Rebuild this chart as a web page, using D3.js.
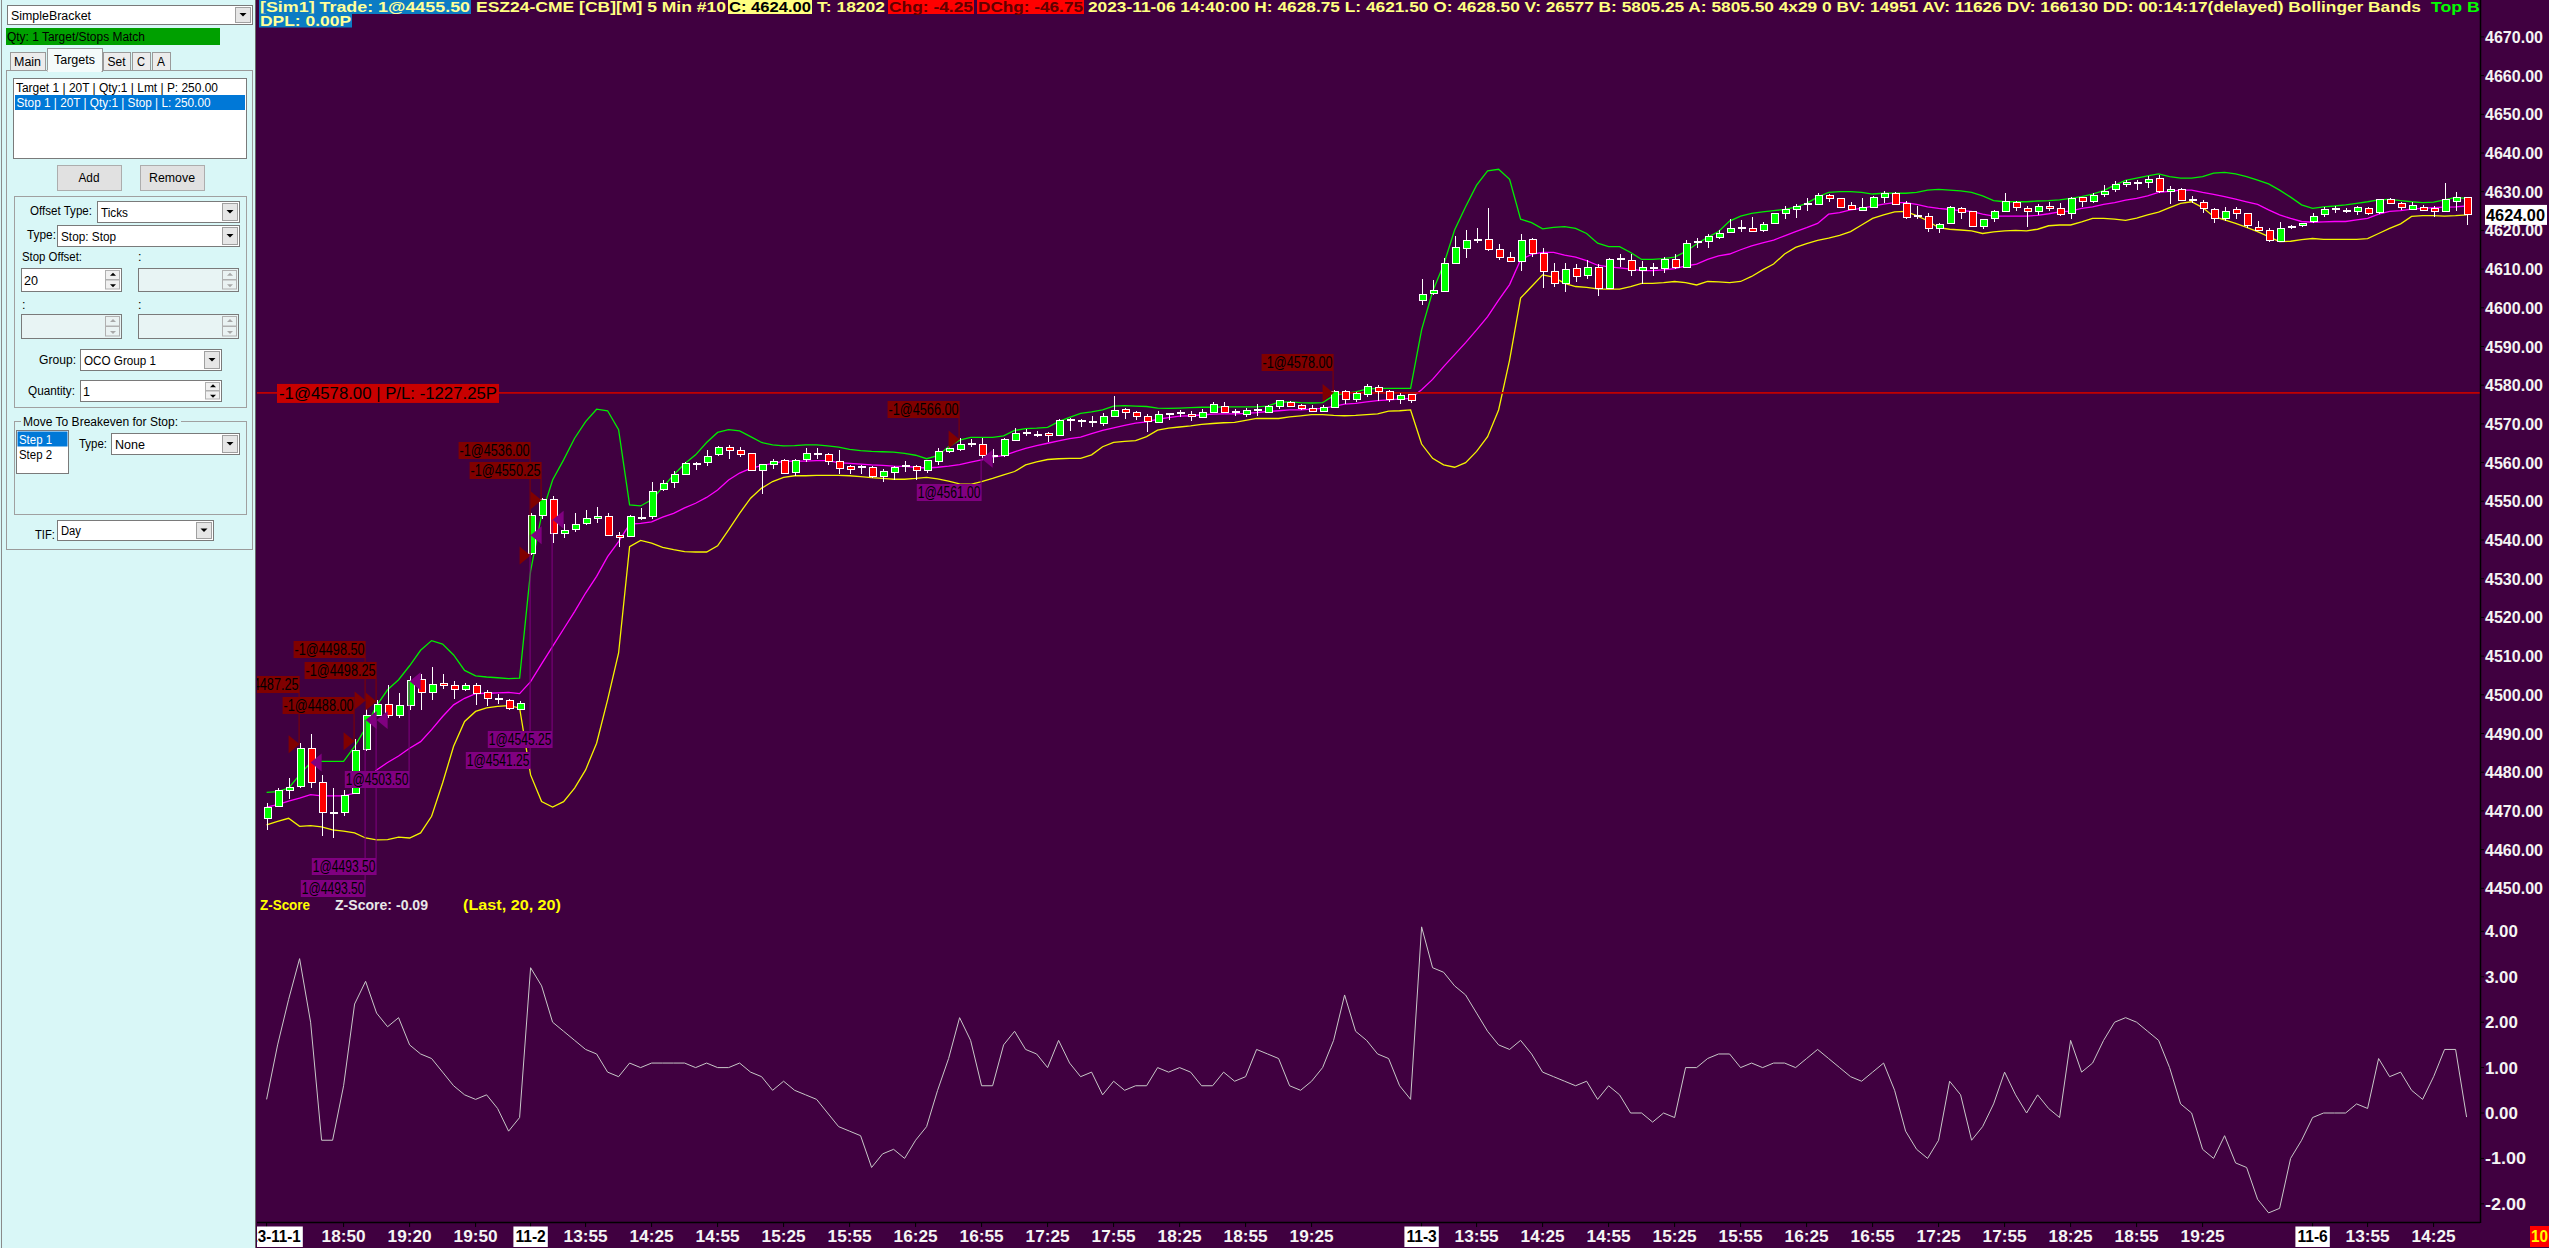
<!DOCTYPE html>
<html><head><meta charset="utf-8">
<script src="https://cdn.jsdelivr.net/npm/d3@7"></script>
<style>
html,body{margin:0;padding:0;background:#400040;overflow:hidden;}
svg{display:block;}
</style></head><body>
<svg id="c" width="2549" height="1248"></svg>
<script>
// ---------------- DATA ----------------
const opens = [4468.0,4471.25,4475.25,4476.25,4486.0,4477.25,4469.5,4469.5,4474.5,4485.75,4494.75,4497.5,4494.75,4497.25,4504.0,4500.5,4503.0,4502.5,4501.25,4502.5,4500.5,4499.0,4498.5,4496.25,
4536.5,4546.25,4550.5,4541.75,4542.75,4544.25,4545.5,4546.0,4541.25,4541.0,4545.75,4546.0,4553.0,4554.75,4557.0,4559.75,4560.0,4562.0,4564.0,4563.0,4562.25,4558.0,4559.5,4560.5,4557.5,4560.75,4562.25,4562.0,4560.25,4559.0,4558.75,4558.75,4556.5,4557.5,4559.0,4559.0,4558.0,4560.25,4562.75,4563.5,4564.75,4564.75,4561.75,4561.75,4565.75,4567.75,4567.25,4567.5,4567.0,4571.0,4571.0,4570.5,4570.0,4572.0,4573.75,4573.0,4572.0,4570.25,4572.5,4572.75,4572.5,4571.75,4573.0,4574.5,4573.0,4572.5,4573.5,4573.0,4574.5,4575.5,4574.75,4574.0,4573.25,4574.25,4578.25,4576.25,4577.5,4579.5,4578.25,4576.25,4577.5,
4602.0,4603.75,4604.25,4611.5,4615.25,4617.5,4617.75,4615.0,4613.0,4612.0,4617.75,4614.0,4609.5,4606.25,4610.25,4608.25,4610.5,4605.0,4612.5,4612.25,4609.75,4610.25,4610.25,4612.5,4610.5,4616.75,4617.25,4618.25,4619.5,4620.5,4620.5,4620.0,4621.75,4624.25,4625.5,4626.75,4626.75,4629.0,4628.25,4626.5,4625.25,4626.0,4628.5,4629.5,4627.0,4623.75,4623.5,4620.5,4621.75,4625.75,4625.0,4621.0,4623.0,4625.0,4627.25,4625.75,4625.0,4626.25,4625.75,4624.25,4628.5,4627.5,4629.25,4630.5,4631.75,4632.25,4632.25,4633.5,4630.0,4630.5,4627.75,4627.25,4625.5,4623.0,4625.5,4624.25,4620.75,4620.0,4617.25,4620.75,4621.25,
4622.25,4624.0,4625.5,4625.0,4625.0,4625.75,4624.5,4628.0,4627.0,4625.5,4626.0,4625.75,4625.0,4627.5,4628.5];
const highs = [4472.0,4476.0,4478.5,4487.5,4490.0,4479.25,4476.0,4475.5,4488.5,4499.0,4498.75,4502.5,4500.5,4504.75,4505.5,4507.25,4505.25,4503.5,4503.0,4503.0,4501.25,4500.25,4499.0,4498.5,
4547.0,4550.75,4551.25,4544.25,4547.0,4547.75,4548.5,4547.0,4542.0,4546.5,4548.25,4555.0,4555.5,4557.75,4560.25,4560.25,4563.25,4564.25,4564.5,4564.0,4562.5,4559.75,4561.0,4561.0,4561.0,4563.75,4563.75,4562.5,4563.25,4559.5,4559.5,4559.0,4558.25,4559.0,4560.5,4559.5,4560.75,4563.75,4564.75,4566.25,4566.0,4566.25,4563.5,4566.25,4569.0,4568.75,4568.25,4568.0,4571.25,4571.5,4571.25,4572.0,4572.75,4577.25,4574.0,4573.25,4572.5,4573.25,4572.75,4573.5,4573.25,4573.75,4575.75,4575.75,4573.75,4574.0,4575.25,4575.0,4576.0,4576.0,4575.25,4575.0,4575.0,4578.75,4578.75,4578.25,4580.25,4580.0,4578.75,4578.0,4577.75,
4607.5,4607.25,4612.75,4618.5,4620.0,4620.5,4625.75,4616.5,4614.5,4619.0,4618.0,4615.5,4611.5,4611.5,4611.25,4612.25,4611.25,4612.75,4614.0,4614.0,4612.0,4611.5,4613.25,4614.0,4617.5,4618.0,4619.0,4620.0,4623.0,4622.75,4623.5,4622.25,4624.5,4626.25,4626.75,4628.25,4629.75,4629.5,4628.5,4627.25,4628.25,4629.0,4630.25,4630.0,4627.5,4626.25,4624.5,4622.0,4626.25,4626.0,4625.0,4623.0,4625.25,4629.75,4627.5,4626.25,4626.75,4627.25,4627.0,4628.75,4628.75,4629.75,4631.75,4632.75,4633.0,4633.0,4634.0,4634.25,4631.5,4631.0,4629.0,4627.75,4625.75,4626.0,4626.0,4624.25,4622.5,4620.5,4622.25,4621.5,4622.0,
4624.5,4626.0,4626.25,4625.75,4626.25,4626.0,4628.0,4628.25,4627.25,4627.25,4626.5,4626.25,4632.25,4630.0,4628.75];
const lows = [4465.0,4471.0,4473.0,4476.0,4476.0,4463.5,4463.0,4468.75,4474.25,4485.5,4494.5,4494.0,4494.0,4496.0,4496.0,4498.75,4501.5,4499.0,4501.0,4497.25,4497.0,4497.75,4496.0,4496.0,
4536.25,4545.5,4539.25,4540.5,4542.0,4544.0,4544.5,4541.0,4538.25,4540.75,4545.25,4545.5,4552.75,4553.5,4556.75,4558.0,4559.0,4561.75,4561.0,4561.5,4557.75,4552.0,4558.25,4557.0,4556.5,4560.25,4561.0,4559.5,4557.0,4557.0,4557.0,4556.0,4555.0,4555.5,4557.5,4555.5,4557.25,4559.5,4562.5,4563.0,4564.0,4561.0,4560.0,4561.5,4565.5,4567.0,4566.5,4565.25,4567.0,4568.25,4569.25,4569.25,4569.5,4572.0,4571.25,4571.0,4568.0,4570.25,4571.0,4571.75,4570.75,4571.5,4572.75,4572.75,4572.0,4571.75,4572.0,4572.75,4573.75,4574.25,4573.5,4573.0,4573.0,4574.0,4575.25,4575.75,4577.0,4576.0,4575.75,4575.25,4575.5,
4600.75,4603.25,4604.0,4611.25,4612.75,4616.75,4614.75,4612.25,4611.75,4609.5,4613.25,4605.0,4605.25,4604.0,4606.75,4607.5,4603.0,4604.75,4610.5,4608.25,4606.25,4608.25,4609.0,4610.0,4610.25,4615.5,4615.5,4617.75,4619.5,4619.5,4619.5,4619.5,4621.75,4623.0,4623.25,4625.0,4626.5,4627.25,4626.0,4625.25,4625.0,4626.0,4627.0,4626.5,4623.0,4623.0,4619.5,4619.25,4621.75,4623.0,4620.75,4620.25,4622.25,4624.75,4625.0,4621.0,4624.0,4625.0,4623.75,4623.0,4626.0,4627.0,4628.75,4630.0,4631.25,4630.5,4631.0,4629.75,4626.75,4627.5,4627.0,4624.5,4622.0,4622.5,4623.0,4620.5,4619.75,4617.0,4617.0,4620.25,4620.75,
4622.0,4623.5,4624.5,4624.5,4624.0,4624.0,4624.25,4626.75,4625.25,4625.25,4625.0,4623.5,4624.75,4625.0,4621.5];
const closes = [4471.0,4475.25,4476.0,4486.0,4477.25,4469.5,4469.5,4474.0,4485.5,4494.75,4497.5,4494.75,4497.25,4503.75,4500.5,4502.75,4502.5,4501.25,4502.5,4500.25,4499.0,4499.0,4496.5,4497.75,
4546.25,4550.5,4541.75,4542.5,4544.0,4545.5,4546.0,4541.25,4540.75,4546.0,4545.75,4552.5,4554.5,4557.0,4559.75,4559.75,4561.5,4564.0,4563.0,4562.0,4558.0,4559.5,4560.25,4557.25,4560.5,4562.25,4562.25,4560.25,4558.5,4558.25,4558.75,4556.5,4557.75,4558.75,4559.0,4558.0,4560.5,4562.75,4563.75,4564.75,4564.75,4561.75,4561.75,4566.0,4567.5,4567.75,4567.25,4567.0,4570.75,4571.0,4570.5,4570.5,4572.0,4573.5,4573.0,4572.0,4570.5,4572.5,4572.5,4572.75,4572.0,4573.0,4575.0,4573.0,4573.0,4573.5,4573.5,4574.5,4576.0,4574.5,4574.0,4573.25,4574.25,4578.25,4576.25,4577.75,4579.75,4578.5,4576.25,4577.25,4576.0,
4603.5,4604.5,4611.5,4615.5,4617.5,4617.5,4615.0,4613.0,4612.0,4617.5,4614.0,4609.5,4606.25,4610.0,4608.0,4610.5,4605.0,4612.5,4612.5,4609.75,4610.5,4610.25,4612.5,4610.5,4616.5,4617.25,4618.5,4619.25,4620.5,4620.5,4619.75,4621.5,4624.25,4625.5,4626.25,4626.75,4629.0,4628.25,4626.0,4625.5,4626.0,4628.5,4629.5,4626.75,4623.25,4623.75,4620.5,4621.5,4626.0,4624.5,4621.0,4622.75,4625.0,4627.5,4626.0,4625.0,4626.25,4625.75,4624.0,4628.25,4627.5,4629.0,4630.0,4631.75,4632.25,4632.25,4633.25,4630.0,4630.5,4627.75,4627.75,4625.75,4623.0,4625.0,4624.25,4621.25,4620.0,4617.5,4620.5,4620.75,4621.75,
4623.5,4625.5,4625.5,4625.0,4626.0,4624.25,4628.0,4627.0,4626.0,4626.5,4625.25,4625.0,4628.0,4628.5,4624.0];
const bbTop = [4474.8,4475.0,4475.9,4479.3,4482.5,4482.8,4482.8,4482.8,4486.7,4491.4,4497.2,4501.3,4503.9,4507.5,4511.5,4514.0,4513.1,4510.3,4506.3,4504.9,4504.6,4504.4,4504.2,4504.3,
4532.0,4546.5,4555.5,4560.7,4566.3,4570.6,4573.8,4573.4,4568.5,4549.1,4548.8,4550.4,4553.6,4556.8,4559.7,4562.0,4565.2,4567.8,4568.5,4568.2,4566.7,4565.2,4564.6,4564.3,4564.4,4564.6,4564.6,4564.3,4564.0,4563.4,4563.1,4562.9,4562.8,4562.7,4562.4,4561.9,4561.0,4561.8,4564.1,4565.8,4566.5,4566.5,4566.5,4566.9,4568.3,4568.8,4568.9,4569.1,4570.6,4571.7,4572.7,4573.1,4573.6,4574.6,4574.7,4574.6,4574.5,4574.1,4574.0,4574.1,4574.2,4574.3,4574.3,4574.4,4574.4,4574.4,4574.4,4574.6,4575.6,4575.7,4575.5,4575.4,4575.5,4577.3,4577.9,4578.3,4579.0,4579.2,4579.2,4579.2,4579.2,
4594.3,4604.2,4611.1,4620.1,4626.1,4631.7,4635.4,4635.8,4633.2,4622.9,4622.0,4620.4,4620.8,4621.0,4620.5,4619.2,4616.7,4615.8,4615.8,4614.3,4612.5,4612.5,4612.7,4613.1,4614.5,4616.5,4618.2,4619.7,4622.4,4623.7,4624.4,4624.8,4625.1,4625.4,4626.0,4627.0,4628.6,4629.8,4630.0,4630.0,4629.8,4629.4,4629.6,4629.6,4629.6,4629.8,4630.4,4630.6,4630.4,4630.2,4629.8,4628.9,4627.7,4627.4,4627.4,4627.4,4627.6,4627.7,4627.9,4628.3,4628.7,4629.4,4630.3,4631.7,4632.9,4633.5,4634.1,4634.6,4633.9,4633.5,4633.5,4633.9,4634.8,4635.0,4634.6,4633.9,4633.0,4632.0,4630.4,4628.6,4626.6,
4625.7,4626.1,4626.3,4626.6,4627.0,4627.4,4627.9,4628.0,4627.7,4627.4,4627.2,4627.3,4627.9,4628.5,4628.3];
const bbMid = [4471.0,4471.6,4472.5,4473.3,4474.2,4473.9,4473.9,4473.9,4474.6,4477.6,4480.6,4482.5,4484.2,4486.2,4487.9,4491.0,4494.4,4497.4,4499.1,4500.3,4500.4,4500.5,4500.6,4500.3,
4503.4,4508.0,4512.5,4517.0,4521.5,4526.3,4530.6,4535.7,4539.6,4544.1,4544.3,4544.7,4545.9,4546.9,4548.3,4549.5,4551.0,4552.9,4555.5,4557.3,4558.5,4559.2,4559.8,4560.3,4560.4,4560.4,4560.5,4560.5,4560.0,4559.8,4559.6,4559.4,4559.3,4559.1,4559.0,4558.8,4558.6,4558.8,4559.1,4559.5,4560.1,4560.7,4561.4,4561.8,4562.8,4563.7,4564.4,4565.0,4565.6,4566.2,4566.6,4567.5,4568.3,4569.0,4569.6,4570.2,4570.5,4571.2,4571.6,4572.0,4572.1,4572.3,4572.5,4572.6,4572.6,4572.7,4572.9,4573.2,4573.4,4573.6,4573.6,4573.8,4574.0,4574.5,4575.1,4575.3,4575.7,4576.0,4576.2,4576.4,4576.6,
4578.8,4581.5,4584.8,4587.9,4591.0,4594.3,4597.7,4602.0,4606.0,4612.4,4613.8,4614.3,4614.3,4613.6,4613.1,4612.2,4611.0,4610.6,4610.3,4610.0,4609.6,4609.6,4609.8,4610.1,4610.8,4611.3,4612.5,4613.4,4613.9,4615.0,4616.0,4616.8,4617.5,4618.6,4619.7,4620.7,4621.8,4624.2,4624.6,4625.3,4625.7,4626.3,4626.8,4627.2,4627.2,4626.7,4626.1,4625.7,4625.4,4625.1,4624.9,4624.2,4623.7,4623.7,4623.7,4623.7,4623.9,4624.3,4624.8,4625.0,4625.7,4626.1,4626.7,4627.2,4627.8,4628.3,4628.9,4629.8,4630.1,4630.4,4630.4,4629.8,4629.3,4628.7,4628.1,4627.4,4626.7,4625.3,4624.0,4623.1,4622.3,
4622.1,4622.2,4622.3,4622.3,4622.7,4623.1,4624.2,4624.9,4625.1,4625.5,4625.7,4625.9,4626.0,4626.1,4626.3];
const bbBot = [4466.4,4467.3,4468.1,4466.0,4466.2,4465.9,4465.1,4464.8,4464.3,4463.0,4462.5,4462.6,4463.2,4463.0,4464.3,4468.6,4477.2,4486.7,4493.1,4495.7,4496.6,4497.0,4497.2,4496.6,
4479.3,4472.4,4471.0,4472.4,4475.9,4480.6,4487.5,4498.7,4510.8,4538.3,4539.9,4539.2,4538.1,4537.5,4537.0,4536.9,4536.9,4538.5,4542.6,4546.9,4550.8,4553.4,4555.1,4556.2,4556.6,4556.6,4556.7,4556.7,4556.7,4556.6,4556.4,4556.1,4555.9,4555.7,4555.7,4555.9,4556.2,4555.8,4555.2,4554.5,4554.4,4555.1,4555.9,4556.8,4557.7,4559.4,4560.2,4560.8,4561.0,4561.1,4561.1,4562.0,4564.1,4565.2,4565.5,4565.7,4566.7,4568.4,4568.9,4569.2,4569.5,4569.9,4570.1,4570.3,4570.4,4570.9,4571.4,4571.4,4571.4,4571.8,4572.1,4572.4,4572.4,4572.2,4572.1,4572.2,4572.4,4572.6,4573.3,4573.4,4573.6,
4564.8,4561.1,4559.4,4558.8,4560.0,4562.9,4566.7,4573.6,4586.5,4602.5,4605.5,4608.5,4607.9,4606.3,4605.5,4605.3,4604.9,4604.8,4604.8,4605.5,4606.3,4606.3,4606.5,4606.8,4606.5,4605.9,4606.8,4606.7,4606.5,4606.8,4608.1,4609.8,4611.3,4613.9,4615.6,4616.6,4617.4,4618.0,4618.7,4619.7,4621.4,4623.1,4624.0,4624.8,4624.9,4623.8,4622.5,4620.7,4620.3,4620.1,4619.9,4619.2,4619.6,4619.9,4620.0,4619.9,4620.3,4621.2,4621.4,4621.4,4622.2,4623.1,4623.1,4622.9,4622.6,4623.2,4624.0,4624.7,4625.9,4627.0,4627.4,4625.9,4623.6,4622.7,4621.8,4620.8,4619.7,4618.4,4617.1,4617.2,4617.6,
4617.9,4617.7,4617.7,4617.7,4617.7,4617.9,4619.2,4620.5,4621.7,4623.6,4623.8,4623.8,4623.7,4623.8,4624.0];
const zScore = [0.3,1.5,2.5,3.4,2.0,-0.6,-0.6,0.6,2.4,2.9,2.2,1.9,2.1,1.5,1.3,1.2,0.9,0.6,0.4,0.3,0.4,0.1,-0.4,-0.1,
3.2,2.8,2.0,1.8,1.6,1.4,1.3,0.9,0.8,1.1,1.0,1.1,1.1,1.1,1.1,1.0,1.1,1.0,1.0,1.1,0.9,0.8,0.5,0.7,0.5,0.4,0.3,0.0,-0.3,-0.4,-0.5,-1.2,-0.9,-0.8,-1.0,-0.6,-0.3,0.5,1.2,2.1,1.6,0.6,0.6,1.5,1.8,1.4,1.3,1.0,1.6,1.1,0.8,0.9,0.4,0.7,0.5,0.6,0.6,1.0,0.9,1.0,0.9,0.6,0.6,0.9,0.7,0.8,1.4,1.3,1.2,0.6,0.5,0.7,1.0,1.6,2.6,1.8,1.6,1.3,1.2,0.6,0.3,
4.1,3.2,3.1,2.8,2.6,2.2,1.8,1.5,1.4,1.6,1.3,0.9,0.8,0.7,0.6,0.7,0.3,0.6,0.4,0.0,0.0,-0.2,0.0,-0.1,1.0,1.0,1.2,1.3,1.3,1.0,1.1,1.0,1.1,1.1,1.0,1.2,1.4,1.2,1.0,0.8,0.7,0.9,1.1,0.5,-0.4,-0.8,-1.0,-0.6,0.7,0.4,-0.6,-0.3,0.2,0.9,0.4,0.0,0.4,0.1,-0.1,1.6,0.9,1.1,1.6,2.0,2.1,2.0,1.8,1.6,1.0,0.2,0.0,-0.8,-1.0,-0.5,-1.1,-1.2,-1.9,-2.2,-2.1,-1.0,-0.6,
-0.1,0.0,0.0,0.0,0.2,0.1,1.2,0.8,0.9,0.5,0.3,0.8,1.4,1.4,-0.09];
const priceTicks = [4450,4460,4470,4480,4490,4500,4510,4520,4530,4540,4550,4560,4570,4580,4590,4600,4610,4620,4630,4640,4650,4660,4670];
const zTicks = [-2,-1,0,1,2,3,4];
const timeIdx = [0,7,13,19,24,29,35,41,47,53,59,65,71,77,83,89,95,105,110,116,122,128,134,140,146,152,158,164,170,176,186,191,197];
const timeText = ["2023-11-1","18:50","19:20","19:50","11-2","13:55","14:25","14:55","15:25","15:55","16:25","16:55","17:25","17:55","18:25","18:55","19:25","11-3","13:55","14:25","14:55","15:25","15:55","16:25","16:55","17:25","17:55","18:25","18:55","19:25","11-6","13:55","14:25"];
const tradeIdx   = [3,8,9,10,24,25,63,97, 4,9,10,13,24,26,65];
const tradeSide  = [-1,-1,-1,-1,-1,-1,-1,-1, 1,1,1,1,1,1,1];
const tradePrice = [4487.25,4488.00,4498.50,4498.25,4536.00,4550.25,4566.00,4578.00, 4482.50,4493.50,4493.50,4503.50,4541.25,4545.25,4561.00];
const lastPrice = 4624.00, positionPrice = 4578.00;

// ---------------- LAYOUT ----------------
const tradeLabelTop = [676,697,641,662,442,462,401,354, null,880,858,771,752,731,484];
const FONT = "'Liberation Sans', Arial, sans-serif";
const L = 257, R = 2480, PB = 897, ZB = 1222;
const svg = d3.select('#c');
const x = d3.scaleLinear().domain([0,200]).range([266.6,2466.6]);
const y = d3.scaleLinear().domain([4450,4670]).range([888.3,36.9]);
const yz = d3.scaleLinear().domain([-2,4]).range([1203.8,931.4]);

svg.append('rect').attr('width',2549).attr('height',1248).attr('fill','#400040');
const defs = svg.append('defs');
defs.append('clipPath').attr('id','cp').append('rect').attr('x',L).attr('y',30).attr('width',R-L).attr('height',PB-30);
defs.append('clipPath').attr('id','cz').append('rect').attr('x',L).attr('y',PB).attr('width',R-L).attr('height',ZB-PB);
defs.append('clipPath').attr('id','cx').append('rect').attr('x',L).attr('y',1222).attr('width',R-L).attr('height',30);
defs.append('clipPath').attr('id','ch').append('rect').attr('x',L).attr('y',0).attr('width',R-L).attr('height',30);

// ---- price pane ----
const gp = svg.append('g').attr('clip-path','url(#cp)');
const line = arr => d3.line().x((d,i)=>x(i)).y(d=>y(d))(arr);
gp.append('path').attr('d',line(bbTop)).attr('fill','none').attr('stroke','#00ee00').attr('stroke-width',1.3);
gp.append('path').attr('d',line(bbBot)).attr('fill','none').attr('stroke','#f4f400').attr('stroke-width',1.3);
gp.append('path').attr('d',line(bbMid)).attr('fill','none').attr('stroke','#ff00ff').attr('stroke-width',1.3);

gp.append('line').attr('x1',L).attr('x2',R).attr('y1',y(positionPrice)).attr('y2',y(positionPrice))
  .attr('stroke','#c00000').attr('stroke-width',1.8);

const gc = gp.append('g').attr('shape-rendering','crispEdges');
opens.forEach((o,i)=>{
  const c = closes[i], cx = Math.round(x(i))+0.5;
  gc.append('line').attr('x1',cx).attr('x2',cx).attr('y1',y(highs[i])).attr('y2',y(lows[i])).attr('stroke','#ffffff').attr('stroke-width',1);
  if (o===c) {
    gc.append('rect').attr('x',cx-4).attr('y',Math.round(y(c))-1).attr('width',8).attr('height',2).attr('fill','#ffffff');
  } else {
    const top = y(Math.max(o,c)), bot = y(Math.min(o,c));
    gc.append('rect').attr('x',cx-3.5).attr('y',top).attr('width',7).attr('height',Math.max(1,bot-top))
      .attr('fill', c>o ? '#00ff00' : '#ff0000').attr('stroke','#ffffff').attr('stroke-width',1);
  }
});

const gt = gp.append('g');
tradeIdx.forEach((ti,k)=>{
  const side = tradeSide[k], p = tradePrice[k], cx = x(ti), cy = y(p);
  const col = side<0 ? '#800000' : '#800080';
  const txt = (side<0?'-1@':'1@') + p.toFixed(2);
  const top = tradeLabelTop[k];
  if (top!==null) {
    const w = txt.length*7.2, h = 17;
    const ly1 = side<0 ? top+h : cy, ly2 = side<0 ? cy : top;
    gt.append('line').attr('x1',cx-0.5).attr('x2',cx-0.5).attr('y1',ly1).attr('y2',ly2).attr('stroke',col).attr('stroke-width',1);
    gt.append('rect').attr('x',cx-w).attr('y',top).attr('width',w).attr('height',h).attr('fill',col);
    gt.append('text').attr('x',cx-w+1).attr('y',top+h-3).attr('font-family',FONT).attr('font-size',16)
      .attr('textLength',w-2).attr('lengthAdjust','spacingAndGlyphs').attr('fill','#000000').text(txt);
  }
  const pts = side<0 ? [[cx-11,cy-9],[cx,cy],[cx-11,cy+9]] : [[cx,cy],[cx+11,cy-9],[cx+11,cy+9]];
  gt.append('polygon').attr('points',pts.map(d=>d.join(',')).join(' ')).attr('fill',col);
});

{
  const t = '-1@4578.00 | P/L: -1227.25P';
  gp.append('rect').attr('x',277).attr('y',y(positionPrice)-9).attr('width',222).attr('height',19).attr('fill','#c80000');
  gp.append('text').attr('x',279).attr('y',y(positionPrice)+6).attr('font-family',FONT).attr('font-size',16)
    .attr('textLength',218).attr('lengthAdjust','spacingAndGlyphs').attr('fill','#000000').text(t);
}

// ---- z-score pane ----
const gz = svg.append('g').attr('clip-path','url(#cz)');
gz.append('path').attr('d',d3.line().x((d,i)=>x(i)).y(d=>yz(d))(zScore)).attr('fill','none').attr('stroke','#c8c8c8').attr('stroke-width',1);
const zTitle = [['Z-Score',260,50,'#ffff00'],['Z-Score: -0.09',335,93,'#e8e8e8'],['(Last, 20, 20)',463,98,'#ffff00']];
zTitle.forEach(t=>{
  svg.append('text').attr('x',t[1]).attr('y',910).attr('font-family',FONT).attr('font-size',15).attr('font-weight','bold')
    .attr('textLength',t[2]).attr('lengthAdjust','spacingAndGlyphs').attr('fill',t[3]).text(t[0]);
});

// ---- axes ----
svg.append('line').attr('x1',R+0.5).attr('x2',R+0.5).attr('y1',0).attr('y2',ZB+1).attr('stroke','#000').attr('stroke-width',1.5);
svg.append('line').attr('x1',L).attr('x2',R).attr('y1',ZB+0.5).attr('y2',ZB+0.5).attr('stroke','#000').attr('stroke-width',1.5);
const ga = svg.append('g').attr('font-family',FONT).attr('font-weight','bold').attr('font-size',16).attr('fill','#f4f4f4');
priceTicks.forEach(p=>{
  ga.append('line').attr('x1',R).attr('x2',R+4).attr('y1',y(p)).attr('y2',y(p)).attr('stroke','#000');
  ga.append('text').attr('x',2485).attr('y',y(p)+6).attr('textLength',58).attr('lengthAdjust','spacingAndGlyphs').text(p.toFixed(2));
});
zTicks.forEach(z=>{
  const s = z.toFixed(2);
  ga.append('line').attr('x1',R).attr('x2',R+4).attr('y1',yz(z)).attr('y2',yz(z)).attr('stroke','#000');
  ga.append('text').attr('x',2485).attr('y',yz(z)+6).attr('textLength',s.length*8.2).attr('lengthAdjust','spacingAndGlyphs').text(s);
});
svg.append('rect').attr('x',2485).attr('y',y(lastPrice)-10).attr('width',62).attr('height',20).attr('fill','#ffffff');
svg.append('text').attr('x',2486).attr('y',y(lastPrice)+6).attr('font-family',FONT).attr('font-weight','bold').attr('font-size',16)
  .attr('textLength',59).attr('lengthAdjust','spacingAndGlyphs').attr('fill','#000').text(lastPrice.toFixed(2));

const gx = svg.append('g').attr('clip-path','url(#cx)').attr('font-family',FONT).attr('font-weight','bold').attr('font-size',16);
timeIdx.forEach((ti,k)=>{
  const t = timeText[k], cx = x(ti), isDate = t.indexOf('-')>=0;
  gx.append('line').attr('x1',cx).attr('x2',cx).attr('y1',ZB).attr('y2',ZB+5).attr('stroke','#000');
  if (isDate) {
    const w = t.length*7.6;
    gx.append('rect').attr('x',cx-w/2-2).attr('y',1226.5).attr('width',w+4).attr('height',20.5).attr('fill','#ffffff');
    gx.append('text').attr('x',cx-w/2).attr('y',1242).attr('textLength',w).attr('lengthAdjust','spacingAndGlyphs').attr('fill','#000').text(t);
  } else {
    gx.append('text').attr('x',cx).attr('y',1242).attr('text-anchor','middle').attr('textLength',44).attr('lengthAdjust','spacingAndGlyphs').attr('fill','#f4f4f4').text(t);
  }
});
svg.append('rect').attr('x',2530).attr('y',1226).attr('width',19).attr('height',21).attr('fill','#ff0000');
svg.append('text').attr('x',2531).attr('y',1242).attr('font-family',FONT).attr('font-weight','bold').attr('font-size',16)
  .attr('textLength',17).attr('lengthAdjust','spacingAndGlyphs').attr('fill','#ffff00').text('10');

// ---- header ----
const gh = svg.append('g').attr('clip-path','url(#ch)').attr('font-family',FONT).attr('font-weight','bold').attr('font-size',14);
const hdr = [
  {t:'[Sim1] Trade: 1@4455.50', x0:259, x1:471, bg:'#0c7cc4', fg:'#ffff9a', row:0},
  {t:'ESZ24-CME [CB][M] 5 Min  #10', x0:475, x1:727, bg:null, fg:'#ffff80', row:0},
  {t:'C: 4624.00', x0:728, x1:812, bg:'#ffff80', fg:'#000000', row:0},
  {t:'T: 18202', x0:816, x1:886, bg:null, fg:'#ffff80', row:0},
  {t:'Chg: -4.25', x0:888, x1:974, bg:'#ff0000', fg:'#600000', row:0},
  {t:'DChg: -46.75', x0:977, x1:1084, bg:'#ff0000', fg:'#600000', row:0},
  {t:'2023-11-06 14:40:00 H: 4628.75 L: 4621.50 O: 4628.50 V: 26577 B: 5805.25 A: 5805.50 4x29 0 BV: 14951 AV: 11626 DV: 166130 DD: 00:14:17(delayed) Bollinger Bands', x0:1087, x1:2422, bg:null, fg:'#ffff80', row:0},
  {t:'Top Band', x0:2430, x1:2512, bg:null, fg:'#00ff00', row:0},
  {t:'DPL: 0.00P', x0:259, x1:352, bg:'#0c7cc4', fg:'#ffff9a', row:1}
];
hdr.forEach(h=>{
  const y0 = h.row===0 ? 0 : 13.5;
  if (h.bg) gh.append('rect').attr('x',h.x0).attr('y',y0).attr('width',h.x1-h.x0).attr('height',14).attr('fill',h.bg);
  gh.append('text').attr('x',h.x0+1).attr('y',y0+12).attr('textLength',h.x1-h.x0-2).attr('lengthAdjust','spacingAndGlyphs').attr('fill',h.fg).text(h.t);
});

// ---------------- LEFT PANEL ----------------
const lp = svg.append('g').attr('font-family',FONT).attr('font-size',12.5);
lp.append('rect').attr('x',0).attr('y',0).attr('width',256).attr('height',1248).attr('fill','#d9f7f7');
lp.append('line').attr('x1',1.5).attr('x2',1.5).attr('y1',0).attr('y2',1248).attr('stroke','#8a8a8a');
lp.append('line').attr('x1',255.5).attr('x2',255.5).attr('y1',0).attr('y2',1248).attr('stroke','#6a6a6a');
function txt(g,xx,yy,s,o={}){
  const t=g.append('text').attr('x',xx).attr('y',yy).attr('fill',o.fill||'#000').text(s);
  if(o.anchor) t.attr('text-anchor',o.anchor);
  if(o.w) t.attr('textLength',o.w).attr('lengthAdjust','spacingAndGlyphs');
  return t;
}
function field(g,xx,yy,w,h,dis){ g.append('rect').attr('x',xx+0.5).attr('y',yy+0.5).attr('width',w).attr('height',h).attr('fill',dis?'#e8f4f4':'#ffffff').attr('stroke','#7a7a7a'); }
function dropdown(g,xx,yy,w,h,s,tw){
  field(g,xx,yy,w,h,false);
  g.append('rect').attr('x',xx+w-16.5).attr('y',yy+2.5).attr('width',15).attr('height',h-4).attr('fill','#e6e6e6').attr('stroke','#a0a0a0');
  const ax = xx+w-9, ay = yy+h/2;
  g.append('polygon').attr('points',`${ax-3.5},${ay-1.5} ${ax+3.5},${ay-1.5} ${ax},${ay+2}`).attr('fill','#000');
  txt(g,xx+4,yy+h/2+5,s,{w:tw});
}
function spin(g,xx,yy,w,h,s,dis,tw){
  field(g,xx,yy,w,h,dis);
  const bx = xx+w-16;
  g.append('rect').attr('x',bx+0.5).attr('y',yy+2.5).attr('width',14).attr('height',h/2-2.5).attr('fill',dis?'#eaf2f2':'#f0f0f0').attr('stroke','#b0b0b0');
  g.append('rect').attr('x',bx+0.5).attr('y',yy+h/2+0.5).attr('width',14).attr('height',h/2-2.5).attr('fill',dis?'#eaf2f2':'#f0f0f0').attr('stroke','#b0b0b0');
  const c = dis?'#a8a8a8':'#000';
  g.append('polygon').attr('points',`${bx+5},${yy+h/4+2} ${bx+11},${yy+h/4+2} ${bx+8},${yy+h/4-1}`).attr('fill',c);
  g.append('polygon').attr('points',`${bx+5},${yy+3*h/4-1} ${bx+11},${yy+3*h/4-1} ${bx+8},${yy+3*h/4+2}`).attr('fill',c);
  if (s) txt(g,xx+3,yy+h/2+5,s,{w:tw});
}
function groupBox(g,xx,yy,w,h){ g.append('rect').attr('x',xx+0.5).attr('y',yy+0.5).attr('width',w).attr('height',h).attr('fill','none').attr('stroke','#a0a0a0'); }

dropdown(lp,7,5,245,19,'SimpleBracket',80);
lp.append('rect').attr('x',6).attr('y',28).attr('width',214).attr('height',17).attr('fill','#00a000');
txt(lp,7,41,'Qty: 1 Target/Stops Match',{w:138});
lp.append('rect').attr('x',6.5).attr('y',70.5).attr('width',246).attr('height',479).attr('fill','#d9f7f7').attr('stroke','#9a9a9a');
const tabs = [['Main',10,45,27],['Targets',47,102,41],['Set',103,130,18],['C',132,150,8],['A',152,170,8]];
tabs.forEach((tb,k)=>{
  const sel = k===1;
  lp.append('rect').attr('x',tb[1]+0.5).attr('y',sel?48.5:52.5).attr('width',tb[2]-tb[1]).attr('height',sel?23:18).attr('fill',sel?'#f4fbfb':'#ececec').attr('stroke','#9a9a9a');
  txt(lp,(tb[1]+tb[2])/2-tb[3]/2,sel?64:66,tb[0],{w:tb[3]});
});
lp.append('line').attr('x1',47.5).attr('x2',101.5).attr('y1',71).attr('y2',71).attr('stroke','#f4fbfb').attr('stroke-width',2);
field(lp,13,78,233,80,false);
txt(lp,16,92,'Target 1 | 20T | Qty:1 | Lmt | P: 250.00',{w:202});
lp.append('rect').attr('x',15).attr('y',95).attr('width',230).attr('height',15).attr('fill','#0078d7');
txt(lp,16.5,107,'Stop 1 | 20T | Qty:1 | Stop | L: 250.00',{fill:'#ffffff',w:194});
[['Add',57,121,21],['Remove',140,204,46]].forEach(b=>{
  lp.append('rect').attr('x',b[1]+0.5).attr('y',165.5).attr('width',b[2]-b[1]).attr('height',25).attr('fill','#e1e1e1').attr('stroke','#adadad');
  txt(lp,(b[1]+b[2])/2-b[3]/2,182,b[0],{w:b[3]});
});
groupBox(lp,14,196,232,211);
txt(lp,30,215,'Offset Type:',{w:62});
dropdown(lp,97,201,142,21,'Ticks',27);
txt(lp,27,239,'Type:',{w:29});
dropdown(lp,57,225,182,21,'Stop: Stop',55);
txt(lp,22,261,'Stop Offset:',{w:60});
txt(lp,138,261,':');
spin(lp,21,268,100,23,'20',false,14);
spin(lp,138,268,100,23,'',true);
txt(lp,22,309,':');
txt(lp,138,309,':');
spin(lp,21,314,100,24,'',true);
spin(lp,138,314,100,24,'',true);
txt(lp,39,364,'Group:',{w:37});
dropdown(lp,80,349,141,21,'OCO Group 1',72);
txt(lp,28,395,'Quantity:',{w:47});
spin(lp,80,380,141,21,'1',false);
groupBox(lp,14,421,232,93);
lp.append('rect').attr('x',21).attr('y',415).attr('width',160).attr('height',12).attr('fill','#d9f7f7');
txt(lp,23,426,'Move To Breakeven for Stop:',{w:155});
field(lp,16,430,52,43,false);
lp.append('rect').attr('x',17.5).attr('y',431.5).attr('width',50).attr('height',15).attr('fill','#0078d7');
txt(lp,19,444,'Step 1',{fill:'#ffffff',w:33});
txt(lp,19,459,'Step 2',{w:33});
txt(lp,79,448,'Type:',{w:28});
dropdown(lp,111,433,128,21,'None',30);
txt(lp,35,539,'TIF:',{w:20});
dropdown(lp,57,520,156,20,'Day',20);
</script>
</body></html>
